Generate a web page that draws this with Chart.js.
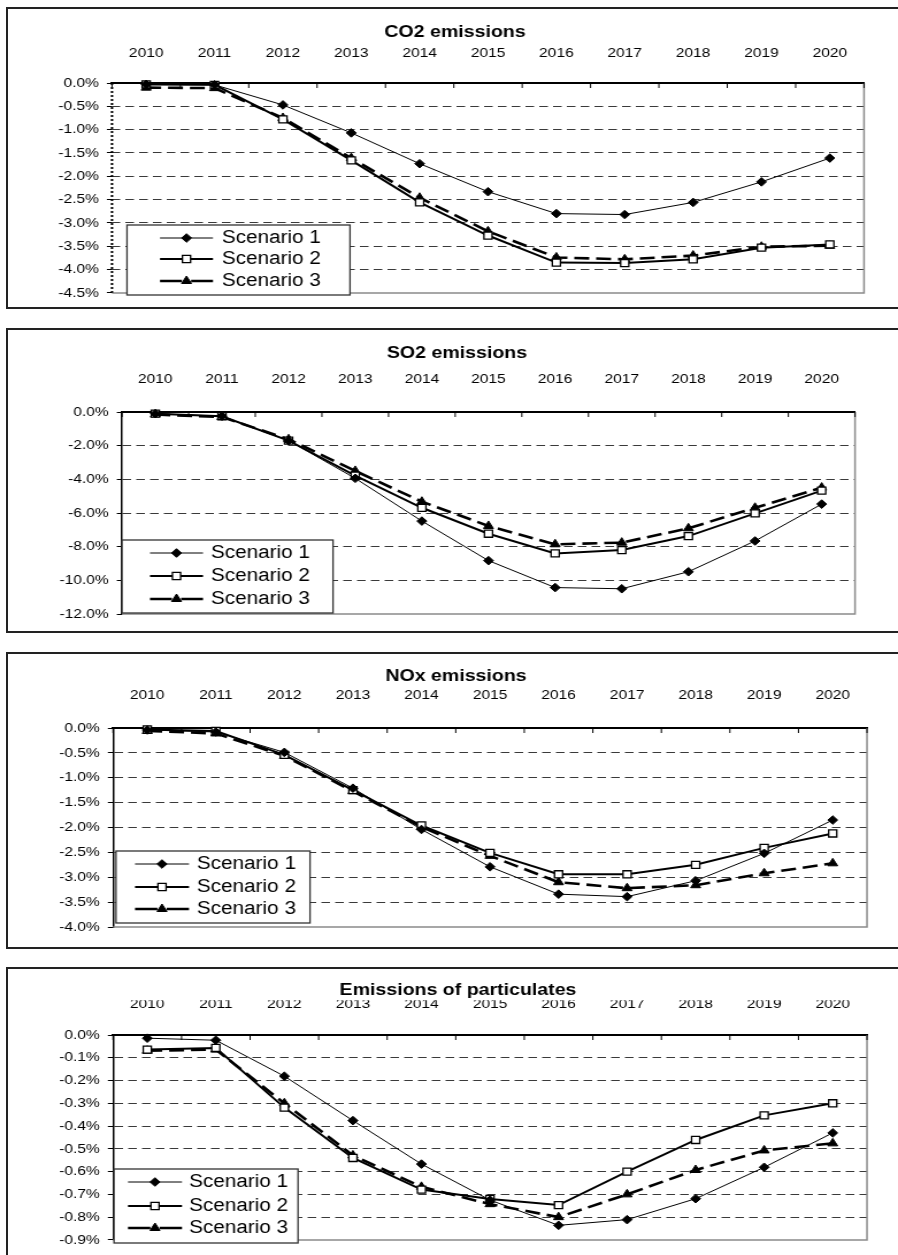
<!DOCTYPE html>
<html>
<head>
<meta charset="utf-8">
<script src="https://cdn.jsdelivr.net/npm/chart.js@4.4.1/dist/chart.umd.min.js"></script>
<style>
  html, body { margin: 0; padding: 0; background: #fff; }
  body { width: 898px; height: 1255px; overflow: hidden; position: relative; }
  .frame { position: absolute; left: 6px; width: 1000px; border: 2px solid #222; box-sizing: border-box; }
  canvas.panel { position: absolute; left: 0; }
</style>
</head>
<body>
<script>
// ---- data (percentage change vs. baseline) ----
const years = ['2010', '2011', '2012', '2013', '2014', '2015', '2016', '2017', '2018', '2019', '2020'];
const scenarioNames = ['Scenario 1', 'Scenario 2', 'Scenario 3'];

const co2Title = 'CO2 emissions';
const co2Scenario1 = [-0.03, -0.04, -0.47, -1.07, -1.73, -2.33, -2.80, -2.82, -2.56, -2.12, -1.61];
const co2Scenario2 = [-0.03, -0.04, -0.78, -1.66, -2.56, -3.27, -3.85, -3.86, -3.78, -3.53, -3.46];
const co2Scenario3 = [-0.10, -0.11, -0.75, -1.61, -2.46, -3.18, -3.74, -3.78, -3.70, -3.51, -3.49];

const so2Title = 'SO2 emissions';
const so2Scenario1 = [-0.10, -0.25, -1.70, -3.94, -6.48, -8.83, -10.43, -10.50, -9.49, -7.66, -5.47];
const so2Scenario2 = [-0.10, -0.25, -1.70, -3.78, -5.69, -7.23, -8.40, -8.20, -7.37, -6.02, -4.67];
const so2Scenario3 = [-0.15, -0.30, -1.62, -3.50, -5.33, -6.77, -7.86, -7.76, -6.91, -5.69, -4.49];

const noxTitle = 'NOx emissions';
const noxScenario1 = [-0.04, -0.08, -0.49, -1.21, -2.04, -2.79, -3.34, -3.39, -3.07, -2.52, -1.85];
const noxScenario2 = [-0.03, -0.06, -0.54, -1.25, -1.96, -2.51, -2.94, -2.94, -2.75, -2.41, -2.12];
const noxScenario3 = [-0.06, -0.11, -0.56, -1.27, -1.99, -2.57, -3.10, -3.22, -3.16, -2.92, -2.72];

const pmTitle = 'Emissions of particulates';
const pmScenario1 = [-0.014, -0.023, -0.181, -0.376, -0.567, -0.725, -0.836, -0.811, -0.719, -0.581, -0.430];
const pmScenario2 = [-0.064, -0.057, -0.319, -0.540, -0.679, -0.720, -0.747, -0.600, -0.461, -0.353, -0.300];
const pmScenario3 = [-0.069, -0.064, -0.300, -0.529, -0.667, -0.743, -0.800, -0.700, -0.593, -0.507, -0.476];

// y-axis ranges: [minimum, step]
const co2Axis = [-4.5, 0.5];
const so2Axis = [-12, 2];
const noxAxis = [-4, 0.5];
const pmAxis = [-0.9, 0.1];

// ---- page layout (page pixels) ----
const PAGE_W = 898, PAGE_H = 1255;
const CANVAS_W = 781;                 // drawn narrower, shown stretched across the page
const SX = PAGE_W / CANVAS_W;
const FONT = "'Liberation Sans', Arial, sans-serif";
const TICK_SIZE = 13.5, TITLE_SIZE = 17, LEGEND_SIZE = 18;

const panels = [
  { title: co2Title, series: [co2Scenario1, co2Scenario2, co2Scenario3], axis: co2Axis,
    top: 8, bottom: 308, plot: { l: 112, r: 864, t: 83, b: 296 }, titleX: 455, titleY: 32, labelY: 61,
    dottedAxis: true,
    legend: { l: 127, r: 350, t: 225, b: 295, rows: [238, 259, 281], lineL: 160, lineR: 213, textX: 222 } },
  { title: so2Title, series: [so2Scenario1, so2Scenario2, so2Scenario3], axis: so2Axis,
    top: 329, bottom: 632, plot: { l: 122, r: 855, t: 412, b: 614 }, titleX: 457, titleY: 353, labelY: 387,
    dottedAxis: false,
    legend: { l: 122, r: 333, t: 540, b: 613, rows: [553, 576, 599], lineL: 150, lineR: 203, textX: 211 } },
  { title: noxTitle, series: [noxScenario1, noxScenario2, noxScenario3], axis: noxAxis,
    top: 653, bottom: 948, plot: { l: 113, r: 867, t: 728, b: 927 }, titleX: 456, titleY: 676, labelY: 703,
    dottedAxis: false,
    legend: { l: 116, r: 310, t: 851, b: 923, rows: [864, 887, 909], lineL: 135, lineR: 189, textX: 197 } },
  { title: pmTitle, series: [pmScenario1, pmScenario2, pmScenario3], axis: pmAxis,
    top: 968, bottom: 1300, plot: { l: 113, r: 867, t: 1035, b: 1245 }, titleX: 458, titleY: 990, labelY: 1012,
    dottedAxis: false,
    legend: { l: 114, r: 298, t: 1169, b: 1243, rows: [1182, 1206, 1228], lineL: 128, lineR: 182, textX: 189 } }
];

// line / marker styles per scenario
const seriesStyles = [
  { borderWidth: 1, borderDash: [], pointStyle: 'rectRot', pointRadius: 4.3,
    pointBackgroundColor: '#000', pointBorderColor: '#000', pointBorderWidth: 1 },
  { borderWidth: 2, borderDash: [], pointStyle: 'rect', pointRadius: 5,
    pointBackgroundColor: '#fff', pointBorderColor: '#000', pointBorderWidth: 1.3 },
  { borderWidth: 2.6, borderDash: [13, 6], pointStyle: 'triangle', pointRadius: 5,
    pointBackgroundColor: '#000', pointBorderColor: '#000', pointBorderWidth: 1 }
];

function drawMarker(ctx, style, radius, x, y) {
  if (Chart.helpers && Chart.helpers.drawPoint) {
    Chart.helpers.drawPoint(ctx, { pointStyle: style, radius: radius, rotation: 0, borderWidth: ctx.lineWidth }, x, y);
    return;
  }
  ctx.beginPath();
  if (style === 'rectRot') {
    ctx.moveTo(x - radius, y); ctx.lineTo(x, y - radius); ctx.lineTo(x + radius, y); ctx.lineTo(x, y + radius);
  } else if (style === 'rect') {
    const h = radius * Math.SQRT1_2;
    ctx.rect(x - h, y - h, 2 * h, 2 * h);
  } else {
    ctx.moveTo(x, y - radius);
    ctx.lineTo(x + radius * Math.sin(2 * Math.PI / 3), y - radius * Math.cos(2 * Math.PI / 3));
    ctx.lineTo(x + radius * Math.sin(4 * Math.PI / 3), y - radius * Math.cos(4 * Math.PI / 3));
  }
  ctx.closePath(); ctx.fill(); ctx.stroke();
}

// plot frame: grey right/bottom edges, dotted value axis where needed, inward category ticks
const framePlugin = {
  id: 'plotFrame',
  beforeDatasetsDraw(chart, args, opts) {
    const { ctx, chartArea: a } = chart;
    ctx.save();
    ctx.strokeStyle = '#8a8a8a';
    ctx.lineWidth = 1.5;
    ctx.beginPath();
    ctx.moveTo(a.right, a.top); ctx.lineTo(a.right, a.bottom); ctx.lineTo(a.left, a.bottom);
    ctx.stroke();
    if (opts.dotted) {
      ctx.strokeStyle = '#000';
      ctx.lineWidth = 2;
      ctx.setLineDash([2, 2]);
      ctx.beginPath(); ctx.moveTo(a.left, a.top); ctx.lineTo(a.left, a.bottom); ctx.stroke();
      ctx.setLineDash([]);
    }
    const xs = chart.scales.x;
    ctx.strokeStyle = '#000';
    ctx.lineWidth = 1;
    ctx.beginPath();
    for (let i = 0; i <= chart.data.labels.length; i++) {
      const px = xs.getPixelForValue(i - 0.5);
      ctx.moveTo(px, a.top); ctx.lineTo(px, a.top + 5);
    }
    ctx.stroke();
    ctx.restore();
  }
};

// boxed legend inside the plot area
const boxLegendPlugin = {
  id: 'boxLegend',
  afterDraw(chart, args, opts) {
    const { ctx } = chart;
    const lg = opts.box, top = opts.top;
    const x0 = lg.l / SX, x1 = lg.r / SX, y0 = lg.t - top, y1 = lg.b - top;
    ctx.save();
    ctx.fillStyle = '#fff';
    ctx.fillRect(x0, y0, x1 - x0, y1 - y0);
    ctx.strokeStyle = '#333';
    ctx.lineWidth = 1.3;
    ctx.strokeRect(x0, y0, x1 - x0, y1 - y0);
    chart.data.datasets.forEach((ds, i) => {
      const y = lg.rows[i] - top;
      const xa = lg.lineL / SX, xb = lg.lineR / SX, xm = (xa + xb) / 2;
      ctx.strokeStyle = ds.borderColor;
      ctx.lineWidth = ds.borderWidth;
      if (ds.borderDash && ds.borderDash.length) {
        const len = xb - xa;
        ctx.setLineDash([len / 2 - 4, 8]);
      } else {
        ctx.setLineDash([]);
      }
      ctx.beginPath(); ctx.moveTo(xa, y); ctx.lineTo(xb, y); ctx.stroke();
      ctx.setLineDash([]);
      ctx.fillStyle = ds.pointBackgroundColor;
      ctx.strokeStyle = ds.pointBorderColor;
      ctx.lineWidth = ds.pointBorderWidth;
      drawMarker(ctx, ds.pointStyle, ds.pointRadius, xm, y);
      ctx.fillStyle = '#000';
      ctx.font = LEGEND_SIZE + 'px ' + FONT;
      ctx.textAlign = 'left';
      ctx.textBaseline = 'middle';
      ctx.fillText(ds.label, lg.textX / SX, y);
    });
    ctx.restore();
  }
};

Chart.defaults.font.family = FONT;
Chart.defaults.color = '#000';

panels.forEach((p) => {
  const bottom = Math.min(p.bottom, PAGE_H);
  const H = bottom - p.top;

  const frame = document.createElement('div');
  frame.className = 'frame';
  frame.style.top = (p.top - 1) + 'px';
  frame.style.height = (p.bottom - p.top + 2) + 'px';
  document.body.appendChild(frame);

  const canvas = document.createElement('canvas');
  canvas.className = 'panel';
  canvas.width = CANVAS_W;
  canvas.height = H;
  canvas.style.top = p.top + 'px';
  canvas.style.width = PAGE_W + 'px';
  canvas.style.height = H + 'px';
  document.body.appendChild(canvas);

  const plotL = p.plot.l / SX, plotR = p.plot.r / SX;
  const plotT = p.plot.t - p.top, plotB = p.plot.b - p.top;
  const padLeft = 2 * (p.titleX / SX) - plotR;       // centres the title on titleX
  const titleLH = TITLE_SIZE * 1.2;
  const titlePadTop = (p.titleY - p.top) - titleLH / 2;
  const xAxisH = plotT - (titlePadTop + titleLH);
  const xLabelPad = plotT - (p.labelY - p.top) - TICK_SIZE * 0.6;
  const yAxisW = plotL - padLeft;
  const yMin = p.axis[0], yStep = p.axis[1];

  const datasets = p.series.map((values, i) => Object.assign({
    label: scenarioNames[i],
    data: values,
    borderColor: '#000',
    fill: false,
    tension: 0,
    clip: false
  }, seriesStyles[i]));

  new Chart(canvas, {
    type: 'line',
    data: { labels: years, datasets: datasets },
    options: {
      responsive: false,
      animation: false,
      events: [],
      layout: { padding: { left: padLeft, top: 0, right: CANVAS_W - plotR, bottom: H - plotB } },
      plugins: {
        legend: { display: false },
        tooltip: { enabled: false },
        title: {
          display: true,
          text: p.title,
          color: '#000',
          font: { size: TITLE_SIZE, weight: 'bold', family: FONT },
          padding: { top: titlePadTop, bottom: 0 }
        },
        plotFrame: { dotted: p.dottedAxis },
        boxLegend: { box: p.legend, top: p.top }
      },
      scales: {
        x: {
          type: 'category',
          position: 'top',
          offset: true,
          grid: { display: false, offset: true },
          border: { display: true, color: '#000', width: 2 },
          ticks: { padding: xLabelPad, color: '#000', font: { size: TICK_SIZE }, maxRotation: 0, autoSkip: false },
          afterFit: (s) => { s.height = xAxisH; }
        },
        y: {
          min: yMin,
          max: 0,
          ticks: {
            stepSize: yStep,
            padding: 7,
            color: '#000',
            font: { size: TICK_SIZE },
            callback: (v) => Number(v).toFixed(1) + '%'
          },
          grid: {
            color: (c) => (c.tick && (Math.abs(c.tick.value) < 1e-9 || Math.abs(c.tick.value - yMin) < 1e-9)) ? 'rgba(0,0,0,0)' : '#3a3a3a',
            lineWidth: 1,
            drawTicks: true,
            tickLength: 4.5,
            tickColor: '#000',
            tickWidth: 1
          },
          border: { display: !p.dottedAxis, color: '#000', width: 1.5, dash: [7.5, 4.5] },
          afterFit: (s) => { s.width = yAxisW; }
        }
      }
    },
    plugins: [framePlugin, boxLegendPlugin]
  });
});
</script>
</body>
</html>
